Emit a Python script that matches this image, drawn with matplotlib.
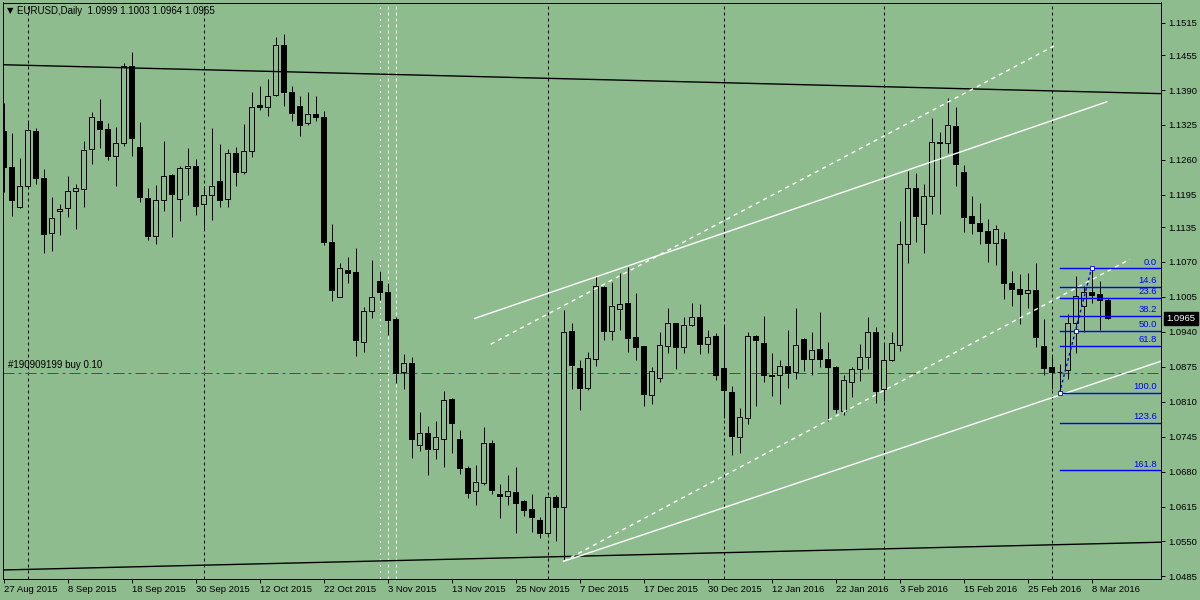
"""EURUSD daily candlestick chart in the style of a MetaTrader window.
Agg backend, writes out.png at 1200x600.
"""
import matplotlib
matplotlib.use("Agg")
import matplotlib.pyplot as plt  # noqa: E402
import numpy as np  # noqa: E402

# daily bars, 27 Aug 2015 .. 10 Mar 2016 (bar index 0..138)
opens = [
    1.1314, 1.1247, 1.1173, 1.1211, 1.1314, 1.1226, 1.1124, 1.1164, 1.1170, 1.1202,
    1.1205, 1.1280, 1.1333, 1.1318, 1.1268, 1.1291, 1.1434, 1.1284, 1.1189, 1.1119,
    1.1185, 1.1232, 1.1187, 1.1244, 1.1249, 1.1178, 1.1195, 1.1220, 1.1187, 1.1273,
    1.1237, 1.1276, 1.1362, 1.1358, 1.1380, 1.1474, 1.1387, 1.1361, 1.1328, 1.1345,
    1.1340, 1.1108, 1.1005, 1.1056, 1.1052, 1.0922, 1.0978, 1.1035, 1.1015, 1.0964,
    1.0865, 1.0883, 1.0729, 1.0751, 1.0723, 1.0741, 1.0815, 1.0741, 1.0687, 1.0643,
    1.0658, 1.0733, 1.0638, 1.0635, 1.0642, 1.0625, 1.0610, 1.0590, 1.0565, 1.0632,
    1.0614, 1.0942, 1.0873, 1.0836, 1.0890, 1.1024, 1.0941, 1.0983, 1.0994, 1.0930,
    1.0913, 1.0823, 1.0854, 1.0913, 1.0956, 1.0911, 1.0953, 1.0967, 1.0918, 1.0932,
    1.0872, 1.0829, 1.0745, 1.0780, 1.0932, 1.0919, 1.0860, 1.0860, 1.0877, 1.0865,
    1.0927, 1.0890, 1.0908, 1.0889, 1.0875, 1.0792, 1.0847, 1.0870, 1.0893, 1.0939,
    1.0833, 1.0887, 1.0916, 1.1104, 1.1207, 1.1141, 1.1193, 1.1293, 1.1291, 1.1323,
    1.1237, 1.1155, 1.1142, 1.1128, 1.1106, 1.1113, 1.1030, 1.1020, 1.1012, 1.1017,
    1.0914, 1.0875, 1.0866, 1.0869, 1.0956, 1.0989, 1.1014, 1.1010, 1.0999,
]
highs = [
    1.1366, 1.1310, 1.1264, 1.1332, 1.1319, 1.1243, 1.1191, 1.1178, 1.1230, 1.1215,
    1.1296, 1.1350, 1.1374, 1.1328, 1.1322, 1.1440, 1.1461, 1.1331, 1.1208, 1.1214,
    1.1296, 1.1234, 1.1249, 1.1283, 1.1262, 1.1211, 1.1319, 1.1290, 1.1281, 1.1284,
    1.1327, 1.1387, 1.1398, 1.1410, 1.1489, 1.1495, 1.1398, 1.1379, 1.1387, 1.1379,
    1.1351, 1.1141, 1.1069, 1.1079, 1.1096, 1.0986, 1.1074, 1.1054, 1.1031, 1.0967,
    1.0899, 1.0893, 1.0791, 1.0765, 1.0774, 1.0830, 1.0817, 1.0758, 1.0691, 1.0692,
    1.0763, 1.0738, 1.0657, 1.0674, 1.0689, 1.0627, 1.0639, 1.0596, 1.0635, 1.0636,
    1.0981, 1.0957, 1.0888, 1.0902, 1.1044, 1.1026, 1.1032, 1.1049, 1.1061, 1.1012,
    1.0913, 1.0874, 1.0940, 1.0984, 1.0956, 1.0967, 1.0994, 1.0992, 1.0944, 1.0938,
    1.0951, 1.0839, 1.0798, 1.0940, 1.0934, 1.0970, 1.0901, 1.0888, 1.0944, 1.0984,
    1.0929, 1.0940, 1.0977, 1.0921, 1.0877, 1.0859, 1.0875, 1.0917, 1.0968, 1.0949,
    1.0918, 1.0940, 1.1146, 1.1240, 1.1236, 1.1215, 1.1337, 1.1312, 1.1376, 1.1358,
    1.1250, 1.1192, 1.1180, 1.1150, 1.1138, 1.1126, 1.1053, 1.1048, 1.1050, 1.1068,
    1.0964, 1.0895, 1.0880, 1.0973, 1.1044, 1.1025, 1.1062, 1.1035, 1.1003,
]
lows = [
    1.1201, 1.1155, 1.1170, 1.1211, 1.1216, 1.1086, 1.1090, 1.1121, 1.1153, 1.1131,
    1.1172, 1.1253, 1.1283, 1.1259, 1.1212, 1.1285, 1.1268, 1.1181, 1.1111, 1.1104,
    1.1164, 1.1116, 1.1146, 1.1194, 1.1157, 1.1134, 1.1149, 1.1173, 1.1172, 1.1211,
    1.1234, 1.1266, 1.1353, 1.1342, 1.1378, 1.1361, 1.1333, 1.1305, 1.1324, 1.1333,
    1.1101, 1.0997, 1.1004, 1.1030, 1.0896, 1.0902, 1.0965, 1.0999, 1.0935, 1.0844,
    1.0833, 1.0706, 1.0719, 1.0673, 1.0704, 1.0689, 1.0714, 1.0675, 1.0630, 1.0617,
    1.0656, 1.0639, 1.0593, 1.0618, 1.0565, 1.0598, 1.0568, 1.0557, 1.0564, 1.0550,
    1.0513, 1.0834, 1.0795, 1.0831, 1.0877, 1.0924, 1.0925, 1.0944, 1.0903, 1.0888,
    1.0803, 1.0805, 1.0847, 1.0901, 1.0870, 1.0901, 1.0950, 1.0898, 1.0901, 1.0851,
    1.0779, 1.0710, 1.0715, 1.0769, 1.0803, 1.0847, 1.0820, 1.0805, 1.0835, 1.0853,
    1.0868, 1.0859, 1.0875, 1.0775, 1.0789, 1.0785, 1.0818, 1.0849, 1.0870, 1.0808,
    1.0812, 1.0885, 1.0904, 1.1069, 1.1108, 1.1086, 1.1160, 1.1160, 1.1273, 1.1212,
    1.1126, 1.1123, 1.1104, 1.1070, 1.1065, 1.1001, 1.0989, 1.0955, 1.0984, 1.0911,
    1.0859, 1.0833, 1.0825, 1.0853, 1.0901, 1.0939, 1.0993, 1.0944, 1.0964,
]
closes = [
    1.1247, 1.1186, 1.1211, 1.1316, 1.1227, 1.1123, 1.1152, 1.1168, 1.1202, 1.1207,
    1.1278, 1.1340, 1.1317, 1.1268, 1.1291, 1.1434, 1.1300, 1.1190, 1.1119, 1.1185,
    1.1230, 1.1196, 1.1245, 1.1249, 1.1175, 1.1195, 1.1211, 1.1186, 1.1273, 1.1237,
    1.1276, 1.1358, 1.1358, 1.1379, 1.1474, 1.1387, 1.1348, 1.1325, 1.1345, 1.1339,
    1.1108, 1.1017, 1.1058, 1.1049, 1.0924, 1.0979, 1.1005, 1.1015, 1.0963, 1.0864,
    1.0883, 1.0740, 1.0751, 1.0723, 1.0744, 1.0813, 1.0771, 1.0686, 1.0641, 1.0660,
    1.0733, 1.0645, 1.0635, 1.0644, 1.0622, 1.0609, 1.0595, 1.0565, 1.0632, 1.0615,
    1.0939, 1.0879, 1.0836, 1.0891, 1.1025, 1.0941, 1.0988, 1.0991, 1.0929, 1.0911,
    1.0825, 1.0867, 1.0915, 1.0956, 1.0911, 1.0952, 1.0967, 1.0918, 1.0930, 1.0860,
    1.0831, 1.0747, 1.0781, 1.0932, 1.0924, 1.0859, 1.0858, 1.0877, 1.0863, 1.0915,
    1.0890, 1.0906, 1.0890, 1.0874, 1.0797, 1.0850, 1.0870, 1.0893, 1.0939, 1.0830,
    1.0887, 1.0919, 1.1103, 1.1207, 1.1156, 1.1192, 1.1293, 1.1291, 1.1324, 1.1253,
    1.1154, 1.1143, 1.1127, 1.1106, 1.1131, 1.1030, 1.1019, 1.1011, 1.1017, 1.0931,
    1.0872, 1.0866, 1.0866, 1.0956, 1.1006, 1.1014, 1.1009, 1.0999, 1.0965,
]

date_labels = [
    "27 Aug 2015", "8 Sep 2015", "18 Sep 2015", "30 Sep 2015", "12 Oct 2015",
    "22 Oct 2015", "3 Nov 2015", "13 Nov 2015", "25 Nov 2015", "7 Dec 2015",
    "17 Dec 2015", "30 Dec 2015", "12 Jan 2016", "22 Jan 2016", "3 Feb 2016",
    "15 Feb 2016", "25 Feb 2016", "8 Mar 2016",
]
bars_per_label = 8
price_ticks = [1.1515, 1.1455, 1.1390, 1.1325, 1.1260, 1.1195, 1.1135, 1.1070, 1.1005,
               1.0940, 1.0875, 1.0810, 1.0745, 1.0680, 1.0615, 1.0550, 1.0485]

month_starts = [3, 25, 47, 68, 90, 110, 131]
white_vlines = [47, 48, 49]

# trend lines as (bar, price) anchors
outer_top = [(0, 1.1437), (140, 1.1385)]        # ray both ways
outer_bottom = [(0, 1.0497), (140, 1.0547)]     # ray both ways
chan_top = [(58.9, 1.0965), (137.9, 1.1368)]
chan_bottom = [(70, 1.0513), (144.6, 1.0885)]   # ray to the right
dash_top = [(60.9, 1.0917), (131.7, 1.1475)]
dash_bottom = [(70, 1.0513), (140.8, 1.1075)]

order_price = 1.0863
order_text = "#190909199 buy 0.10"

fib_bars = [132, 136]
fib_prices = [1.0826, 1.1058]
fib_levels = [0.0, 14.6, 23.6, 38.2, 50.0, 61.8, 100.0, 123.6, 161.8]

header = "EURUSD,Daily  1.0999 1.1003 1.0964 1.0965"

BG = "#8fbc8f"
FONT = "Liberation Sans"
PX = 0.72  # one pixel in points at dpi 100

x = np.arange(len(opens))
o, h, l, c = map(np.array, (opens, highs, lows, closes))
bull = c >= o

fig = plt.figure(figsize=(12, 6), dpi=100, facecolor=BG)
ax = fig.add_axes([2.5 / 1200, 1 - 579 / 600, 1158 / 1200, 576.5 / 600])
ax.set_facecolor(BG)
ax.set_xlim(-0.125, 144.625)
ax.set_ylim(1.04802, 1.15528)
for s in ax.spines.values():
    s.set_color("black")
    s.set_linewidth(PX)

# period separators and user vlines
for b in month_starts:
    ax.axvline(b, color="black", lw=PX, dashes=(3, 3), zorder=1)
for b in white_vlines:
    ax.axvline(b, color="white", lw=PX, dashes=(3, 3), zorder=1.2)

# order line
ax.axhline(order_price, color="#e01010", lw=PX, dashes=(11, 4, 3, 4), zorder=1.5)
ax.annotate(order_text, xy=(0, order_price), xycoords=("axes fraction", "data"),
            xytext=(4, 2), textcoords="offset points", fontsize=7, family=FONT,
            color="black", va="bottom", ha="left")

# candles
ax.vlines(x, l, h, color="black", lw=PX, zorder=2)
ax.bar(x, np.abs(c - o), bottom=np.minimum(o, c), width=0.58,
       color=np.where(bull, BG, "black"), edgecolor="black", linewidth=PX, zorder=3)


def extend(pts, x0, x1):
    (xa, ya), (xb, yb) = pts
    k = (yb - ya) / (xb - xa)
    return [x0, x1], [ya + k * (x0 - xa), ya + k * (x1 - xa)]


xl, xr = ax.get_xlim()
for pts in (outer_top, outer_bottom):
    xs, ys = extend(pts, xl, xr)
    ax.plot(xs, ys, color="black", lw=1.0, zorder=4)

xs, ys = zip(*chan_top)
ax.plot(xs, ys, color="white", lw=1.0, zorder=4)
xs, ys = extend(chan_bottom, chan_bottom[0][0], xr)
ax.plot(xs, ys, color="white", lw=1.0, zorder=4)
for pts in (dash_top, dash_bottom):
    xs, ys = zip(*pts)
    ax.plot(xs, ys, color="white", lw=1.0, dashes=(3, 3), zorder=4)

# fibonacci retracement
lo, hi = fib_prices
for lv in fib_levels:
    p = hi - (hi - lo) * lv / 100.0
    ax.plot([fib_bars[0], xr], [p, p], color="#0000ff", lw=1.0, zorder=5)
    ax.annotate(f"{lv:.1f}", xy=(1, p), xycoords=("axes fraction", "data"),
                xytext=(-2.5, 1.2), textcoords="offset points", fontsize=6.8,
                family=FONT, color="#0000ff", ha="right", va="bottom")
ax.plot(fib_bars, [lo, hi], color="#0000ff", lw=1.0, dashes=(2, 2), zorder=5)
ax.plot([fib_bars[0], (fib_bars[0] + fib_bars[1]) / 2, fib_bars[1]],
        [lo, (lo + hi) / 2, hi], ls="none", marker="s", ms=3.5,
        mfc="white", mec="#0000ff", mew=0.6, zorder=6)

# axes
ax.yaxis.tick_right()
ax.set_yticks(price_ticks)
ax.set_yticklabels([f"{t:.4f}" for t in price_ticks])
ax.set_xticks(np.arange(len(date_labels)) * bars_per_label)
ax.set_xticklabels(date_labels, ha="left")
ax.tick_params(axis="y", direction="out", length=3, width=PX, pad=2.5,
               labelsize=6.8, colors="black")
ax.tick_params(axis="x", direction="out", length=3, width=PX, pad=1.5,
               labelsize=6.8, colors="black")
for lab in ax.get_xticklabels() + ax.get_yticklabels():
    lab.set_family(FONT)

# last price marker
ax.annotate(f"{closes[-1]:.4f}", xy=(1, closes[-1]), xycoords=("axes fraction", "data"),
            xytext=(4.5, 0), textcoords="offset points", fontsize=6.8, family=FONT,
            color="white", ha="left", va="center",
            bbox=dict(boxstyle="square,pad=0.25", fc="black", ec="black"))

# header
fig.text(7 / 1200, 1 - 11 / 600, "\u25bc", fontsize=6, family="DejaVu Sans",
         va="center", ha="left")
fig.text(17 / 1200, 1 - 11 / 600, header, fontsize=7, family=FONT,
         va="center", ha="left")

fig.savefig("out.png", dpi=100, facecolor=BG)
plt.close(fig)
